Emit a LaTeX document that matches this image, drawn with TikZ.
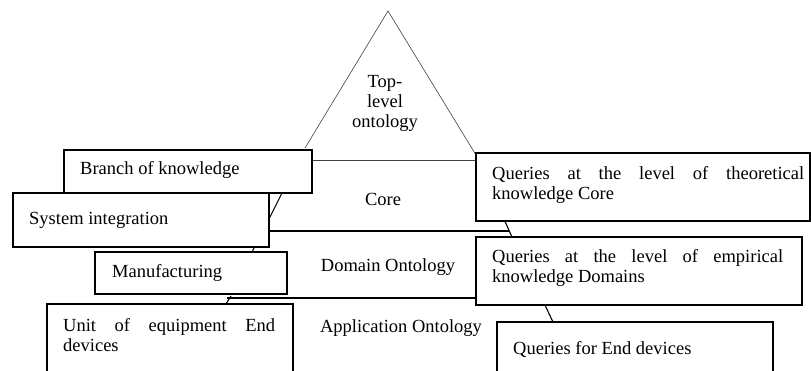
\documentclass[tikz,border=0pt]{standalone}
\usepackage{fontspec}
\setmainfont{Liberation Serif}
\begin{document}
\begin{tikzpicture}[x=1pt,y=-1pt,
  box/.style={draw=black, fill=white, line width=1.1pt, anchor=north west, inner sep=0pt, outer sep=0pt},
  txt/.style={inner sep=0pt, font=\fontsize{18.5}{20}\selectfont, align=left},
  ctxt/.style={inner sep=0pt, font=\fontsize{18.5}{20}\selectfont, align=center},
  thin/.style={draw=black!75, line width=0.6pt},
  thick/.style={draw=black, line width=1.1pt}]
\useasboundingbox (0,0) rectangle (811,370);
% pyramid edges and band lines
\coordinate (apex) at (388,11);
\coordinate (tl) at (305,148);
\coordinate (tr) at (476,155);
\draw[thin] (tl) -- (apex) -- (tr);
\draw[thin] (312,160) -- (477,160);
\draw[thick] (284,189) -- (266,225);
\draw[thick] (268,231) -- (509,231);
\draw[thick] (503,217) -- (512,237);
\draw[thick] (251,254) -- (256,244);
\draw[thick] (227,298) -- (477,298);
\draw[thick] (224,307) -- (231,296);
\draw[thick] (543,301) -- (553,322);
% boxes
\node[box, minimum width=248pt, minimum height=43pt] (branch) at (64,150) {};
\node[box, minimum width=256pt, minimum height=54pt] (sysint) at (13,193) {};
\node[box, minimum width=192pt, minimum height=42pt] (manuf) at (95,252) {};
\node[box, minimum width=246pt, minimum height=90pt] (unit) at (47,304) {};
\node[box, minimum width=334pt, minimum height=68pt] (theo) at (476,153) {};
\node[box, minimum width=326pt, minimum height=68pt] (emp) at (476,237) {};
\node[box, minimum width=276pt, minimum height=90pt] (enddev) at (497,322) {};
% texts
\node[ctxt] (top) at (385,103.5) {Top-\\level\\ontology};
\node[ctxt] (core) at (383,199) {Core};
\node[ctxt] (domain) at (388,267.5) {Domain Ontology};
\node[ctxt] (appl) at (401,328.5) {Application Ontology};
\node[txt, anchor=west] (tbranch) at (80,170) {Branch of knowledge};
\node[txt, anchor=west] (tsys) at (29,220) {System integration};
\node[txt, anchor=west] (tman) at (112,273) {Manufacturing};
\node[txt, anchor=west] (tunit) at (63,335.5) {\makebox[212pt][s]{Unit of equipment End}\\devices};
\node[txt, anchor=west] (ttheo) at (492,185) {\makebox[312pt][s]{Queries at the level of theoretical}\\knowledge Core};
\node[txt, anchor=west] (temp) at (492,268) {\makebox[291pt][s]{Queries at the level of empirical}\\knowledge Domains};
\node[txt, anchor=west] (tend) at (513,349) {Queries for End devices};
\end{tikzpicture}
\end{document}
